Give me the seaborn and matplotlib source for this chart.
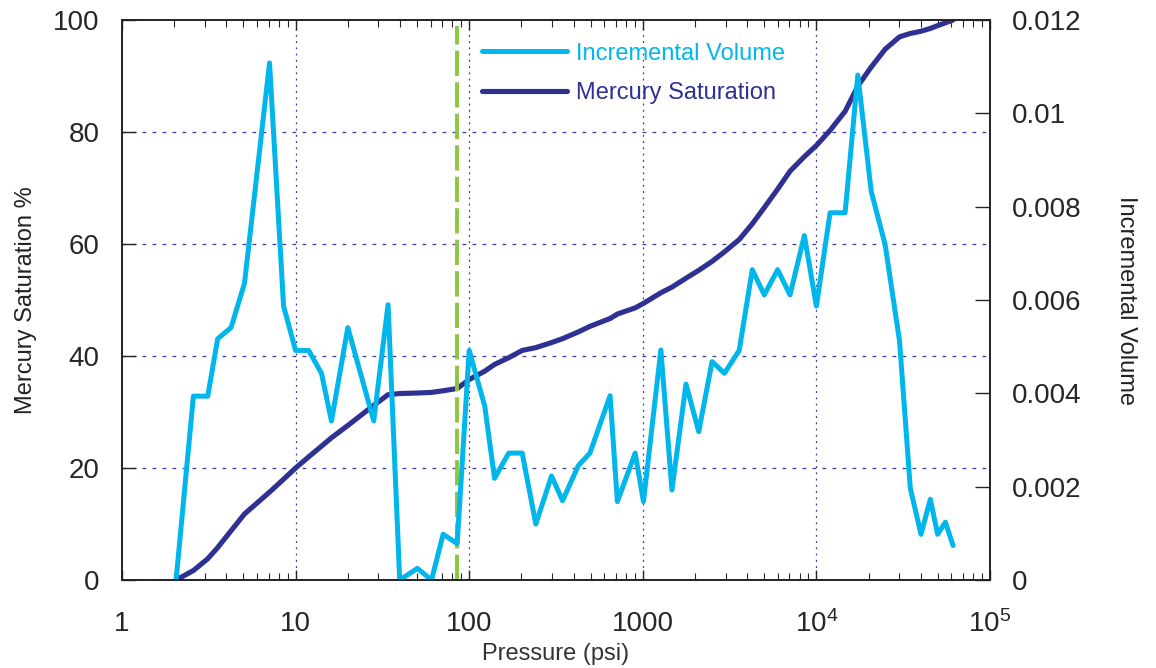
import numpy as np
import pandas as pd
import seaborn as sns
import matplotlib.pyplot as plt
from matplotlib.ticker import FixedLocator, FixedFormatter, LogLocator, NullFormatter
from matplotlib.lines import Line2D

# Pressure steps (psi)
pressure = [2.05, 2.58, 3.12, 3.56, 4.25, 5.08, 7.08, 8.53, 10.0, 11.9, 14.1, 16.1,
            20.0, 28.2, 34.1, 39.8, 50.3, 60.7, 70.8, 85.3, 100, 123, 140, 169, 202,
            242, 298, 345, 425, 496, 648, 714, 904, 1009, 1271, 1472, 1774, 2100,
            2507, 2953, 3592, 4272, 5009, 5982, 7047, 8524, 10000, 11990, 14640,
            17320, 20690, 24910, 30130, 34740, 40050, 45320, 49950, 55330, 61240]

# Mercury saturation (%)
saturation = [0, 1.7, 3.8, 5.8, 8.8, 11.8, 15.7, 18.0, 20.0, 22.0, 23.9, 25.4,
              27.6, 31.2, 33.1, 33.3, 33.4, 33.5, 33.8, 34.2, 35.8, 37.3, 38.5, 39.7,
              41.0, 41.5, 42.4, 43.1, 44.3, 45.3, 46.7, 47.5, 48.6, 49.4, 51.3, 52.3,
              53.9, 55.3, 56.9, 58.6, 60.8, 63.6, 66.5, 69.8, 73.0, 75.6, 77.6, 80.3,
              83.7, 88.2, 91.6, 94.8, 97.0, 97.6, 98.0, 98.5, 99.0, 99.5, 100]

# Incremental volume
incremental = [0, 0.00394, 0.00394, 0.00517, 0.00541, 0.00636, 0.01108, 0.00587,
               0.00492, 0.00492, 0.00443, 0.00341, 0.00541, 0.00341, 0.00590, 0,
               0.00025, 0, 0.00098, 0.00078, 0.00492, 0.00372, 0.00218, 0.00272,
               0.00272, 0.00120, 0.00223, 0.00170, 0.00245, 0.00272, 0.00395,
               0.00168, 0.00272, 0.00168, 0.00493, 0.00193, 0.00420, 0.00318,
               0.00468, 0.00443, 0.00492, 0.00665, 0.00611, 0.00665, 0.00611,
               0.00738, 0.00587, 0.00787, 0.00787, 0.01082, 0.00833, 0.00718,
               0.00512, 0.00197, 0.00098, 0.00173, 0.00098, 0.00124, 0.00074]

threshold_pressure = 85.3

xticks = [1, 10, 100, 1000, 1e4, 1e5]
xtick_labels = ['1', '10', '100', '1000', r'$10^4$', r'$10^5$']

df = pd.DataFrame({'pressure': pressure, 'saturation': saturation,
                   'incremental': incremental})

sns.set_style('white')
plt.rcParams['font.family'] = ['Liberation Sans', 'DejaVu Sans']
plt.rcParams['mathtext.fontset'] = 'custom'
plt.rcParams['mathtext.rm'] = 'Liberation Sans'
plt.rcParams['mathtext.it'] = 'Liberation Sans'

light_blue = '#00b6ea'
dark_blue = '#2e3192'
green = '#8dc63f'
grid_col = '#3a3aa0'

fig = plt.figure(figsize=(11.56, 6.68), dpi=100)
ax = fig.add_axes([0.1055, 0.1317, 0.7509, 0.8383])
ax2 = ax.twinx()

sns.lineplot(data=df, x='pressure', y='saturation', ax=ax, color=dark_blue,
             lw=3.7, sort=False)
sns.lineplot(data=df, x='pressure', y='incremental', ax=ax2, color=light_blue,
             lw=3.6, sort=False)
ax.axvline(threshold_pressure, ymin=0, ymax=0.99, color=green, lw=2.8,
           ls=(0, (6.5, 1.6)))

ax.set_xscale('log')
ax.set_xlim(1, 1e5)
ax.set_ylim(0, 100)
ax2.set_ylim(0, 0.012)

ax.xaxis.set_major_locator(FixedLocator(xticks))
ax.xaxis.set_major_formatter(FixedFormatter(xtick_labels))
ax.xaxis.set_minor_locator(LogLocator(base=10, subs=np.arange(2, 10)))
ax.xaxis.set_minor_formatter(NullFormatter())
ax.set_yticks([0, 20, 40, 60, 80, 100])
ax2.set_yticks([0, 0.002, 0.004, 0.006, 0.008, 0.01, 0.012])
ax2.set_yticklabels(['0', '0.002', '0.004', '0.006', '0.008', '0.01', '0.012'])

ax.tick_params(axis='x', which='major', direction='in', length=7, width=1,
               top=True, bottom=True, labelsize=20, pad=22)
ax.tick_params(axis='x', which='minor', direction='in', length=5, width=0.8,
               top=True, bottom=True)
ax.tick_params(axis='y', direction='in', length=10, width=1, labelsize=20,
               pad=16, left=True, right=False)
ax2.tick_params(axis='y', direction='in', length=11, width=1, labelsize=20,
                pad=16)

# grid: dashed horizontal, dotted vertical
for yv in [20, 40, 60, 80]:
    ax.axhline(yv, color=grid_col, lw=0.9, ls=(0, (3, 5)), zorder=0)
for xv in [10, 100, 1000, 1e4]:
    ax.axvline(xv, color=grid_col, lw=0.9, ls=(0, (1.5, 3.5)), zorder=0)

for a in (ax, ax2):
    for s in a.spines.values():
        s.set_color('#222222')
        s.set_linewidth(1.2)

ax.set_xlabel('Pressure (psi)', fontsize=17, color='#333333', labelpad=3)
ax.set_ylabel('Mercury Saturation %', fontsize=17, color='#222222', labelpad=12)
ax2.set_ylabel('Incremental Volume', fontsize=17, color='#222222', rotation=-90,
               labelpad=40)

handles = [Line2D([], [], color=light_blue, lw=3.6),
           Line2D([], [], color=dark_blue, lw=3.7)]
leg = ax2.legend(handles, ['Incremental Volume', 'Mercury Saturation'],
                 loc='upper left', bbox_to_anchor=(0.417, 0.936),
                 bbox_transform=fig.transFigure, frameon=False, fontsize=17,
                 handlelength=3.6, handletextpad=0.38, labelspacing=0.75,
                 borderpad=0, borderaxespad=0, labelcolor='linecolor')

fig.savefig('out.png', dpi=100)
